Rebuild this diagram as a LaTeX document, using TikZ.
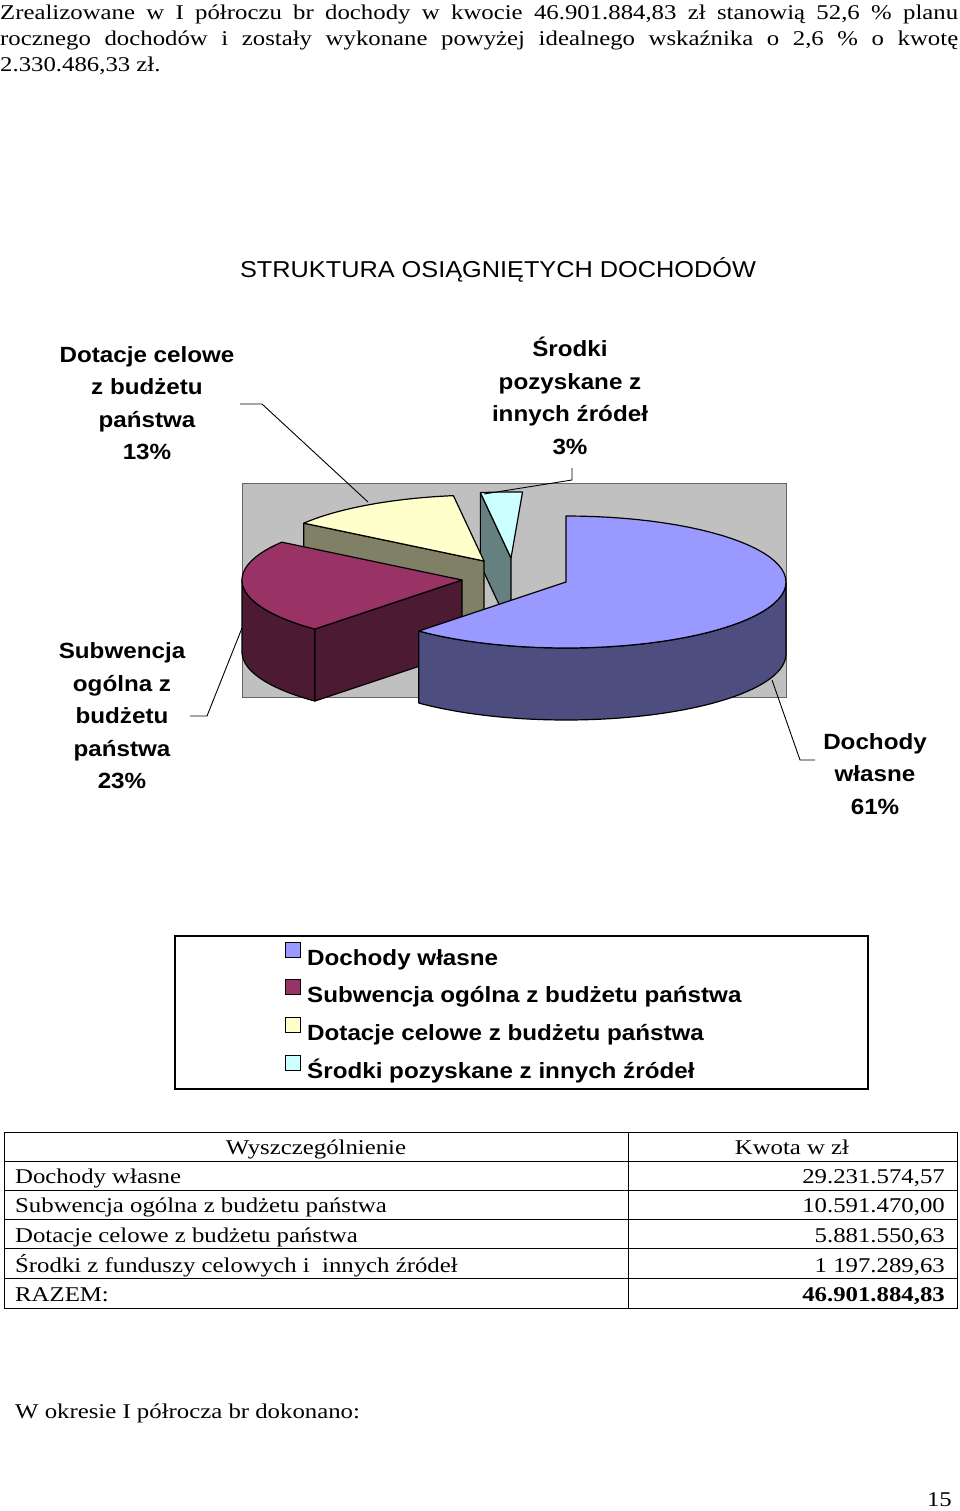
\documentclass[tikz,border=0pt]{standalone}
\usepackage{fontspec}
\setmainfont{Liberation Serif}[FakeStretch=1.18]
\setsansfont{Liberation Sans}[FakeStretch=1.1]
\definecolor{bluetop}{HTML}{9999FF}\definecolor{blueside}{HTML}{4D4D80}
\definecolor{redtop}{HTML}{993366}\definecolor{redside}{HTML}{4C1A33}
\definecolor{yeltop}{HTML}{FFFFCC}\definecolor{yelside}{HTML}{808066}
\definecolor{cyantop}{HTML}{CCFFFF}\definecolor{cyanside}{HTML}{668080}
\definecolor{plotbg}{HTML}{C0C0C0}
\newcommand{\pietop}[5]{\filldraw[fill=#5,draw=black,line width=1.2pt,line join=round] (#1,#2) -- plot[domain=#3:#4,samples=60] ({#1+220*cos(\x)},{#2-66*sin(\x)}) -- cycle;}
\newcommand{\pieside}[5]{\filldraw[fill=#5,draw=black,line width=1.2pt,line join=round] plot[domain=#3:#4,samples=60] ({#1+220*cos(\x)},{#2-66*sin(\x)}) -- plot[domain=#4:#3,samples=60] ({#1+220*cos(\x)},{#2+72-66*sin(\x)}) -- cycle;}
\newcommand{\pieface}[4]{\filldraw[fill=#4,draw=black,line width=1.2pt,line join=round] (#1,#2) -- ({#1+220*cos(#3)},{#2-66*sin(#3)}) -- ({#1+220*cos(#3)},{#2+72-66*sin(#3)}) -- (#1,#2+72) -- cycle;}
\begin{document}
\begin{tikzpicture}[x=1pt,y=-1pt,
  body/.style={font=\fontsize{21}{26}\selectfont,inner sep=0pt},
  lab/.style={font=\sffamily\bfseries\fontsize{22}{32.5}\selectfont,align=center,inner sep=0pt},
  leg/.style={font=\sffamily\bfseries\fontsize{22}{26}\selectfont,anchor=base west,inner sep=0pt},
  lead/.style={draw=black,line width=0.9pt},
  cell/.style={font=\fontsize{21}{26}\selectfont,inner sep=0pt,anchor=base}]
\useasboundingbox (0,0) rectangle (960,1511);
\fill[white] (0,0) rectangle (960,1511);
% text
\node[body,anchor=base west] (l1) at (0,20) {\makebox[958pt][s]{Zrealizowane w I półroczu br dochody w kwocie 46.901.884,83 zł stanowią 52,6 \% planu}};
\node[body,anchor=base west] (l2) at (0,46) {\makebox[958pt][s]{rocznego dochodów i zostały wykonane powyżej idealnego wskaźnika o 2,6 \% o kwotę}};
\node[body,anchor=base west] (l3) at (0,72) {2.330.486,33 zł.};
\node[inner sep=0pt,font=\sffamily\fontsize{23}{28}\selectfont] (title) at (498,270) {STRUKTURA OSIĄGNIĘTYCH DOCHODÓW};
% plot area
\filldraw[fill=plotbg,draw=gray!80!black,line width=1pt] (242,483) rectangle (786,697);
% slices
\pieface{511}{558}{98}{cyanside}
\pietop{511}{558}{98}{87}{cyantop}
\pieface{484}{561}{145}{yelside}
\pietop{484}{561}{145}{98}{yeltop}
\pieface{462}{580}{-132}{redside}
\pieside{462}{580}{-180}{-132}{redside}
\pietop{462}{580}{-132}{-215}{redtop}
\pieside{566}{582}{-132}{0}{blueside}
\pietop{566}{582}{90}{-132}{bluetop}
% labels
\node[lab] (ldot) at (147,403) {Dotacje celowe\\z budżetu\\państwa\\13\%};
\node[lab] (lsro) at (570,396) {Środki\\pozyskane z\\innych źródeł\\3\%};
\node[lab] (lsub) at (122,716) {Subwencja\\ogólna z\\budżetu\\państwa\\23\%};
\node[lab] (lwl) at (875,774) {Dochody\\własne\\61\%};
\coordinate (d1) at (240,404); \coordinate (d2) at (262,404); \coordinate (d3) at (368,502);
\draw[lead] (d1) -- (d2) -- (d3);
\coordinate (s1) at (572,468); \coordinate (s2) at (572,480); \coordinate (s3) at (484,494);
\draw[lead] (s1) -- (s2) -- (s3);
\coordinate (u1) at (190,716); \coordinate (u2) at (207,716); \coordinate (u3) at (242,628);
\draw[lead] (u1) -- (u2) -- (u3);
\coordinate (w1) at (772,680); \coordinate (w2) at (800,760); \coordinate (w3) at (815,760);
\draw[lead] (w1) -- (w2) -- (w3);
% legend
\draw[line width=1.2pt] (175,936) rectangle (868,1089);
\foreach \yy/\cc/\tt [count=\i] in {958/bluetop/Dochody własne,995/redtop/Subwencja ogólna z budżetu państwa,1033/yeltop/Dotacje celowe z budżetu państwa,1071/cyantop/Środki pozyskane z innych źródeł}{
  \filldraw[fill=\cc,draw=black,line width=0.8pt] (285,\yy-16) rectangle (300,\yy-1);
  \node[leg] (leg\i) at (307,\yy+7) {\tt};
}
% table
\draw[line width=1pt] (4,1132) rectangle (957,1308);
\foreach \yy in {1161,1190,1219,1248,1278} \draw[line width=1pt] (4,\yy) -- (957,\yy);
\draw[line width=1pt] (628,1132) -- (628,1308);
\node[cell] (h1) at (316,1154) {Wyszczególnienie};
\node[cell] (h2) at (792,1154) {Kwota w zł};
\node[cell,anchor=base west] (ra1) at (15,1183) {Dochody własne};
\node[cell,anchor=base east] (rb1) at (945,1183) {29.231.574,57};
\node[cell,anchor=base west] (ra2) at (15,1212) {Subwencja ogólna z budżetu państwa};
\node[cell,anchor=base east] (rb2) at (945,1212) {10.591.470,00};
\node[cell,anchor=base west] (ra3) at (15,1242) {Dotacje celowe z budżetu państwa};
\node[cell,anchor=base east] (rb3) at (945,1242) {5.881.550,63};
\node[cell,anchor=base west] (ra4) at (15,1272) {Środki z funduszy celowych i\ \ innych źródeł};
\node[cell,anchor=base east] (rb4) at (945,1272) {1 197.289,63};
\node[cell,anchor=base west] (rz1) at (15,1301) {RAZEM:};
\node[cell,anchor=base east] (rz2) at (945,1301) {\textbf{46.901.884,83}};
\node[body,anchor=base west] (l4) at (15,1418) {W okresie I półrocza br dokonano:};
\node[body,anchor=base east] (pg) at (952,1506) {15};
\end{tikzpicture}
\end{document}
